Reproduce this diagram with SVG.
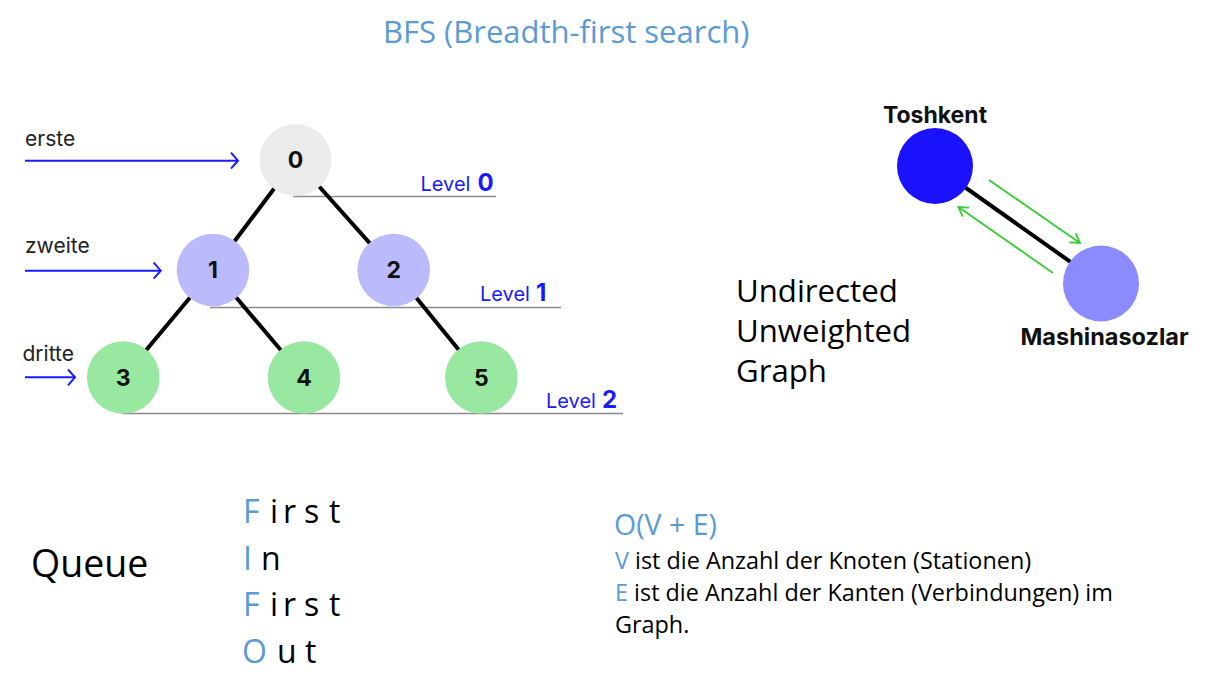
<svg xmlns="http://www.w3.org/2000/svg" width="1210" height="685" viewBox="0 0 1210 685">
  <style>
    .office { font-family: "Open Sans", "Noto Sans", "Liberation Sans", sans-serif; }
    .accent { fill: #5b9bd5; }
    .ink { fill: #000000; }
    .ui { font-family: Inter, Roboto, "Liberation Sans", sans-serif; }
    .num { font-family: Inter, Roboto, "Liberation Sans", sans-serif; font-weight: 700; font-size: 23px; fill: #111111; text-anchor: middle; }
    .lvl { font-family: Inter, Roboto, "Liberation Sans", sans-serif; font-size: 20px; fill: #1a1aff; }
    .lvlnum { font-weight: 700; font-size: 24px; }
    .step { font-family: Inter, Roboto, "Liberation Sans", sans-serif; font-size: 21px; fill: #222222; }
    .levelline { stroke: #8a8a8a; stroke-width: 1.3; }
    .edge { stroke: #000000; stroke-width: 4; }
    .pointer { stroke: #1a1aff; stroke-width: 2; fill: none; marker-end: url(#blueHead); }
    .travel { stroke: #33cc33; stroke-width: 1.8; fill: none; marker-end: url(#greenHead); }
  </style>
  <defs>
    <marker id="blueHead" markerUnits="userSpaceOnUse" markerWidth="12" markerHeight="20" viewBox="0 0 12 20" refX="9" refY="10" orient="auto">
      <path d="M2,2 L9,10 L2,18" stroke="#1a1aff" stroke-width="2" fill="none"/>
    </marker>
    <marker id="greenHead" markerUnits="userSpaceOnUse" markerWidth="14" markerHeight="14" viewBox="0 0 14 14" refX="11" refY="7" orient="auto">
      <path d="M2,1.5 L11,7 L2,12.5" stroke="#33cc33" stroke-width="1.8" fill="none"/>
    </marker>
  </defs>

  <rect width="1210" height="685" fill="#ffffff"/>

  <!-- heading -->
  <text class="office accent" x="383" y="43" font-size="31">BFS (Breadth-first search)</text>

  <!-- level guide lines -->
  <g id="levels">
    <line class="levelline" x1="293" y1="196.5" x2="496" y2="196.5"/>
    <line class="levelline" x1="210" y1="307.5" x2="561" y2="307.5"/>
    <line class="levelline" x1="122" y1="413.5" x2="623" y2="413.5"/>
    <text class="lvl" x="420.5" y="190.7">Level</text>
    <text class="lvl lvlnum" x="477.5" y="190.7">0</text>
    <text class="lvl" x="480" y="300.7">Level</text>
    <text class="lvl lvlnum" x="536" y="300.7">1</text>
    <text class="lvl" x="546" y="408.3">Level</text>
    <text class="lvl lvlnum" x="602" y="408.3">2</text>
  </g>

  <!-- visiting order pointers -->
  <g id="order">
    <text class="step" x="25" y="146">erste</text>
    <line class="pointer" x1="25" y1="160.7" x2="238" y2="160.7"/>
    <text class="step" x="25" y="253.3">zweite</text>
    <line class="pointer" x1="25" y1="270.7" x2="160.7" y2="270.7"/>
    <text class="step" x="22.5" y="360.7">dritte</text>
    <line class="pointer" x1="25" y1="377.3" x2="75" y2="377.3"/>
  </g>

  <!-- connectors -->
  <g id="connectors">
    <line class="edge" x1="295.5" y1="160" x2="213" y2="270"/>
    <line class="edge" x1="295.5" y1="160" x2="393.7" y2="270"/>
    <line class="edge" x1="213" y1="270" x2="123.3" y2="377.5"/>
    <line class="edge" x1="213" y1="270" x2="304" y2="377.5"/>
    <line class="edge" x1="393.7" y1="270" x2="481.3" y2="377.5"/>
    <line class="edge" x1="935" y1="166" x2="1101" y2="283.5"/>
    <line class="travel" x1="989" y1="180" x2="1080" y2="243"/>
    <line class="travel" x1="1053" y1="273" x2="958.5" y2="207"/>
  </g>

  <!-- tree nodes -->
  <g id="node-0">
    <circle cx="295.5" cy="160" r="36" fill="#ebebeb"/>
    <text class="num" x="295.5" y="168.3">0</text>
  </g>
  <g id="node-1">
    <circle cx="213" cy="270" r="36.3" fill="#babafc"/>
    <text class="num" x="213" y="278.3">1</text>
  </g>
  <g id="node-2">
    <circle cx="393.7" cy="270" r="36.3" fill="#babafc"/>
    <text class="num" x="393.7" y="278.3">2</text>
  </g>
  <g id="node-3">
    <circle cx="123.3" cy="377.5" r="36.3" fill="#98e8a2"/>
    <text class="num" x="123.3" y="385.8">3</text>
  </g>
  <g id="node-4">
    <circle cx="304" cy="377.5" r="36.3" fill="#98e8a2"/>
    <text class="num" x="304" y="385.8">4</text>
  </g>
  <g id="node-5">
    <circle cx="481.3" cy="377.5" r="36.3" fill="#98e8a2"/>
    <text class="num" x="481.3" y="385.8">5</text>
  </g>

  <!-- two-station graph -->
  <g id="node-toshkent">
    <circle cx="935" cy="166" r="38" fill="#1a12fc"/>
    <text class="ui" x="935" y="123" font-size="23" font-weight="700" fill="#111111" text-anchor="middle">Toshkent</text>
  </g>
  <g id="node-mashinasozlar">
    <circle cx="1101" cy="283.5" r="38" fill="#8b8bff"/>
    <text class="ui" x="1104.5" y="345" font-size="23.5" font-weight="700" fill="#111111" text-anchor="middle">Mashinasozlar</text>
  </g>

  <text class="office ink" font-size="31.2">
    <tspan x="736" y="302">Undirected</tspan>
    <tspan x="736" y="342">Unweighted</tspan>
    <tspan x="736" y="382">Graph</tspan>
  </text>

  <!-- queue / FIFO -->
  <text class="office ink" x="31" y="577" font-size="37.5">Queue</text>
  <g class="office" font-size="32">
    <text y="523"><tspan class="accent" x="243">F</tspan><tspan class="ink" x="270 283 304 329">irst</tspan></text>
    <text y="570"><tspan class="accent" x="243">I</tspan><tspan class="ink" x="261">n</tspan></text>
    <text y="616"><tspan class="accent" x="243">F</tspan><tspan class="ink" x="270 283 304 329">irst</tspan></text>
    <text y="663"><tspan class="accent" x="242">O</tspan><tspan class="ink" x="277 305">ut</tspan></text>
  </g>

  <!-- complexity -->
  <text class="office accent" x="614" y="535" font-size="28.5">O(V + E)</text>
  <g class="office" font-size="23.4">
    <text x="615" y="569"><tspan class="accent">V</tspan><tspan class="ink"> ist die Anzahl der Knoten (Stationen)</tspan></text>
    <text x="615" y="601"><tspan class="accent">E</tspan><tspan class="ink"> ist die Anzahl der Kanten (Verbindungen) im</tspan></text>
    <text class="ink" x="615" y="633">Graph.</text>
  </g>
</svg>
